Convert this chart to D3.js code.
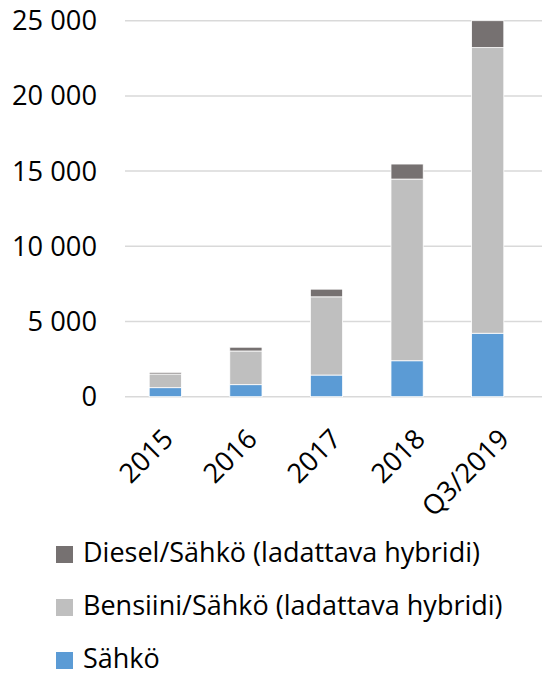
<!DOCTYPE html>
<html>
<head>
<meta charset="utf-8">
<script src="https://cdn.jsdelivr.net/npm/d3@7"></script>
<style>
  html, body { margin: 0; padding: 0; background: #fff; }
  svg { display: block; }
  text { font-family: "Open Sans", sans-serif; fill: #000; }
</style>
</head>
<body>
<svg id="chart" width="542" height="675"></svg>
<script>
const categories = ["2015", "2016", "2017", "2018", "Q3/2019"];
const sahko = [600, 800, 1440, 2390, 4220];
const bensiiniSahko = [910, 2240, 5200, 12080, 18990];
const dieselSahko = [110, 250, 510, 1000, 1790];
const yTicks = [0, 5000, 10000, 15000, 20000, 25000];
const seriesNames = ["Sähkö", "Bensiini/Sähkö (ladattava hybridi)", "Diesel/Sähkö (ladattava hybridi)"];
const seriesColors = ["#5b9bd5", "#bfbfbf", "#767171"];

const rows = categories.map((c, i) => ({ cat: c, s0: sahko[i], s1: bensiiniSahko[i], s2: dieselSahko[i] }));
const stack = d3.stack().keys(["s0", "s1", "s2"])(rows);

const svg = d3.select("#chart");
const x = d3.scaleBand().domain(categories).range([125, 528]).paddingInner(0.6).paddingOuter(0.3);
const xLabel = d3.scalePoint().domain(categories).range([168, 504]);
const y = d3.scaleLinear().domain([0, 25000]).range([396.7, 20.7]);

const fmt = v => d3.format(",")(v).replace(/,/g, " ");

function sizeFor(str, target) {
  const t = svg.append("text").attr("font-size", 100).text(str);
  const w = t.node().getComputedTextLength();
  t.remove();
  return 100 * target / w;
}
const axisSize = sizeFor("25 000", 85);
const legendSize = sizeFor("Diesel/Sähkö (ladattava hybridi)", 397);

// gridlines
svg.append("g").selectAll("line").data(yTicks).join("line")
  .attr("x1", 125).attr("x2", 542)
  .attr("y1", d => y(d)).attr("y2", d => y(d))
  .attr("stroke", "#d9d9d9").attr("stroke-width", 1.5);

// y labels
svg.append("g").selectAll("text").data(yTicks).join("text")
  .attr("x", 97).attr("y", d => y(d)).attr("dy", "0.35em")
  .attr("text-anchor", "end").attr("font-size", axisSize)
  .text(d => fmt(d));

// bars
svg.append("g").selectAll("g").data(stack).join("g")
  .attr("fill", (d, i) => seriesColors[i])
  .selectAll("rect").data(d => d).join("rect")
  .attr("x", d => x(d.data.cat))
  .attr("width", x.bandwidth())
  .attr("y", d => y(d[1]))
  .attr("height", d => y(d[0]) - y(d[1]))
  .attr("stroke", "#ffffff").attr("stroke-width", 0.8);

// x labels
svg.append("g").selectAll("text").data(categories).join("text")
  .attr("transform", d => `translate(${xLabel(d)},${434}) rotate(-45)`)
  .attr("dy", "0.35em")
  .attr("text-anchor", "end").attr("font-size", axisSize)
  .text(d => d);

// legend
const legendOrder = [2, 1, 0];
const lg = svg.append("g").selectAll("g").data(legendOrder).join("g")
  .attr("transform", (d, i) => `translate(0,${562 + i * 53})`);
lg.append("rect").attr("x", 56).attr("y", -16).attr("width", 17).attr("height", 17)
  .attr("fill", d => seriesColors[d]);
lg.append("text").attr("x", 83).attr("y", 0).attr("font-size", legendSize)
  .text(d => seriesNames[d]);
</script>
</body>
</html>
